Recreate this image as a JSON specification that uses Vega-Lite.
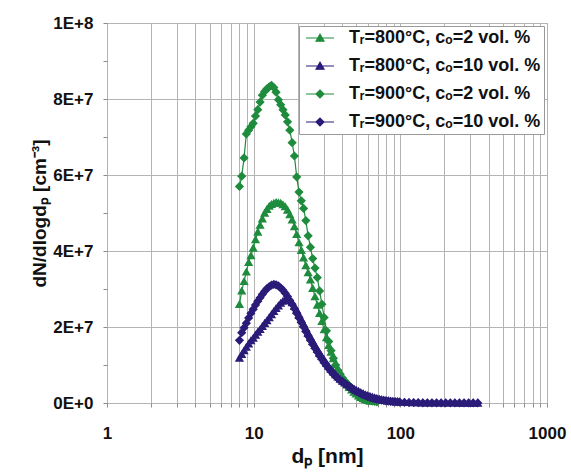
{
  "$schema": "https://vega.github.io/schema/vega-lite/v6.json",
  "width": 440,
  "height": 380,
  "autosize": {"type": "none"},
  "padding": {"left": 107, "top": 23, "right": 24, "bottom": 72},
  "background": "white",
  "config": {
    "view": {"stroke": "#8c8c8c", "strokeWidth": 1},
    "font": "Liberation Sans",
    "legend": {
      "orient": "top-right",
      "offset": 3,
      "padding": 3,
      "fillColor": "white",
      "strokeColor": "#9a9a9a",
      "labelFont": "Liberation Sans",
      "labelFontSize": 18,
      "labelFontWeight": "bold",
      "labelColor": "#111111",
      "labelLimit": 400,
      "symbolSize": 64,
      "symbolStrokeWidth": 1.2,
      "symbolOffset": 9,
      "labelOffset": 20,
      "rowPadding": 10
    }
  },
  "data": {"values": [
    {"s":"A","d":8.00,"n":2.60e7},{"s":"A","d":8.29,"n":2.95e7},{"s":"A","d":8.60,"n":3.20e7},{"s":"A","d":8.91,"n":3.45e7},
    {"s":"A","d":9.24,"n":3.70e7},{"s":"A","d":9.58,"n":3.88e7},{"s":"A","d":9.93,"n":4.08e7},{"s":"A","d":10.29,"n":4.30e7},
    {"s":"A","d":10.67,"n":4.50e7},{"s":"A","d":11.06,"n":4.68e7},{"s":"A","d":11.46,"n":4.85e7},{"s":"A","d":11.88,"n":5.00e7},
    {"s":"A","d":12.32,"n":5.10e7},{"s":"A","d":12.77,"n":5.18e7},{"s":"A","d":13.23,"n":5.23e7},{"s":"A","d":13.72,"n":5.26e7},
    {"s":"A","d":14.22,"n":5.28e7},{"s":"A","d":14.74,"n":5.27e7},{"s":"A","d":15.28,"n":5.26e7},{"s":"A","d":15.84,"n":5.22e7},
    {"s":"A","d":16.42,"n":5.17e7},{"s":"A","d":17.02,"n":5.08e7},{"s":"A","d":17.64,"n":4.96e7},{"s":"A","d":18.29,"n":4.82e7},
    {"s":"A","d":18.96,"n":4.64e7},{"s":"A","d":19.65,"n":4.44e7},{"s":"A","d":20.37,"n":4.22e7},{"s":"A","d":21.12,"n":4.02e7},
    {"s":"A","d":21.89,"n":3.82e7},{"s":"A","d":22.69,"n":3.62e7},{"s":"A","d":23.52,"n":3.43e7},{"s":"A","d":24.38,"n":3.24e7},
    {"s":"A","d":25.27,"n":3.02e7},{"s":"A","d":26.20,"n":2.80e7},{"s":"A","d":27.16,"n":2.58e7},{"s":"A","d":28.15,"n":2.36e7},
    {"s":"A","d":29.18,"n":2.15e7},{"s":"A","d":30.25,"n":1.93e7},{"s":"A","d":31.36,"n":1.72e7},{"s":"A","d":32.50,"n":1.52e7},
    {"s":"A","d":33.69,"n":1.34e7},{"s":"A","d":34.93,"n":1.17e7},{"s":"A","d":36.20,"n":1.02e7},{"s":"A","d":37.53,"n":0.88e7},
    {"s":"A","d":38.90,"n":0.76e7},{"s":"A","d":40.33,"n":0.65e7},{"s":"A","d":41.80,"n":0.56e7},{"s":"A","d":43.33,"n":0.48e7},
    {"s":"A","d":44.92,"n":0.41e7},{"s":"A","d":46.56,"n":0.35e7},{"s":"A","d":48.27,"n":0.29e7},{"s":"A","d":50.03,"n":0.24e7},
    {"s":"A","d":51.86,"n":0.19e7},{"s":"A","d":53.76,"n":0.15e7},{"s":"A","d":55.73,"n":0.12e7},{"s":"A","d":57.77,"n":0.09e7},
    {"s":"A","d":59.88,"n":0.07e7},{"s":"A","d":62.08,"n":0.05e7},

    {"s":"C","d":8.00,"n":5.70e7},{"s":"C","d":8.29,"n":5.97e7},{"s":"C","d":8.60,"n":6.45e7},{"s":"C","d":8.91,"n":7.08e7},
    {"s":"C","d":9.24,"n":7.18e7},{"s":"C","d":9.58,"n":7.27e7},{"s":"C","d":9.93,"n":7.36e7},{"s":"C","d":10.29,"n":7.55e7},
    {"s":"C","d":10.67,"n":7.72e7},{"s":"C","d":11.06,"n":7.92e7},{"s":"C","d":11.46,"n":8.10e7},{"s":"C","d":11.88,"n":8.20e7},
    {"s":"C","d":12.32,"n":8.27e7},{"s":"C","d":12.77,"n":8.32e7},{"s":"C","d":13.23,"n":8.36e7},{"s":"C","d":13.72,"n":8.30e7},
    {"s":"C","d":14.22,"n":8.18e7},{"s":"C","d":14.74,"n":7.98e7},{"s":"C","d":15.28,"n":7.85e7},{"s":"C","d":15.84,"n":7.72e7},
    {"s":"C","d":16.42,"n":7.58e7},{"s":"C","d":17.02,"n":7.40e7},{"s":"C","d":17.64,"n":7.18e7},{"s":"C","d":18.29,"n":6.85e7},
    {"s":"C","d":18.96,"n":6.50e7},{"s":"C","d":19.65,"n":5.95e7},{"s":"C","d":20.37,"n":5.55e7},{"s":"C","d":21.12,"n":5.32e7},
    {"s":"C","d":21.89,"n":5.12e7},{"s":"C","d":22.69,"n":4.80e7},{"s":"C","d":23.52,"n":4.40e7},{"s":"C","d":24.38,"n":4.10e7},
    {"s":"C","d":25.27,"n":3.80e7},{"s":"C","d":26.20,"n":3.55e7},{"s":"C","d":27.16,"n":3.30e7},{"s":"C","d":28.15,"n":2.95e7},
    {"s":"C","d":29.18,"n":2.60e7},{"s":"C","d":30.25,"n":2.25e7},{"s":"C","d":31.36,"n":1.90e7},{"s":"C","d":32.50,"n":1.62e7},
    {"s":"C","d":33.69,"n":1.38e7},{"s":"C","d":34.93,"n":1.18e7},{"s":"C","d":36.20,"n":1.00e7},{"s":"C","d":37.53,"n":0.86e7},
    {"s":"C","d":38.90,"n":0.76e7},{"s":"C","d":40.33,"n":0.66e7},{"s":"C","d":41.80,"n":0.58e7},{"s":"C","d":43.33,"n":0.51e7},
    {"s":"C","d":44.92,"n":0.45e7},{"s":"C","d":46.56,"n":0.40e7},{"s":"C","d":48.27,"n":0.34e7},{"s":"C","d":50.03,"n":0.28e7},
    {"s":"C","d":51.86,"n":0.22e7},{"s":"C","d":53.76,"n":0.17e7},{"s":"C","d":55.73,"n":0.13e7},{"s":"C","d":57.77,"n":0.10e7},
    {"s":"C","d":59.88,"n":0.08e7},{"s":"C","d":62.08,"n":0.06e7},{"s":"C","d":64.35,"n":0.05e7},{"s":"C","d":66.70,"n":0.04e7},
    {"s":"C","d":69.14,"n":0.03e7},

    {"s":"B","d":8.00,"n":1.18e7},{"s":"B","d":8.29,"n":1.28e7},{"s":"B","d":8.60,"n":1.38e7},{"s":"B","d":8.91,"n":1.47e7},
    {"s":"B","d":9.24,"n":1.56e7},{"s":"B","d":9.58,"n":1.64e7},{"s":"B","d":9.93,"n":1.71e7},{"s":"B","d":10.29,"n":1.79e7},
    {"s":"B","d":10.67,"n":1.87e7},{"s":"B","d":11.06,"n":1.94e7},{"s":"B","d":11.46,"n":2.02e7},{"s":"B","d":11.88,"n":2.10e7},
    {"s":"B","d":12.32,"n":2.17e7},{"s":"B","d":12.77,"n":2.25e7},{"s":"B","d":13.23,"n":2.33e7},{"s":"B","d":13.72,"n":2.41e7},
    {"s":"B","d":14.22,"n":2.49e7},{"s":"B","d":14.74,"n":2.56e7},{"s":"B","d":15.28,"n":2.63e7},{"s":"B","d":15.84,"n":2.68e7},
    {"s":"B","d":16.42,"n":2.72e7},{"s":"B","d":17.02,"n":2.73e7},{"s":"B","d":17.64,"n":2.70e7},{"s":"B","d":18.29,"n":2.64e7},
    {"s":"B","d":18.96,"n":2.55e7},{"s":"B","d":19.65,"n":2.45e7},{"s":"B","d":20.37,"n":2.33e7},{"s":"B","d":21.12,"n":2.21e7},
    {"s":"B","d":21.89,"n":2.09e7},{"s":"B","d":22.69,"n":1.97e7},{"s":"B","d":23.52,"n":1.85e7},{"s":"B","d":24.38,"n":1.74e7},
    {"s":"B","d":25.27,"n":1.63e7},{"s":"B","d":26.20,"n":1.52e7},{"s":"B","d":27.16,"n":1.42e7},{"s":"B","d":28.15,"n":1.32e7},
    {"s":"B","d":29.18,"n":1.23e7},{"s":"B","d":30.25,"n":1.14e7},{"s":"B","d":31.36,"n":1.05e7},{"s":"B","d":32.50,"n":0.97e7},
    {"s":"B","d":33.69,"n":0.89e7},{"s":"B","d":34.93,"n":0.82e7},{"s":"B","d":36.20,"n":0.75e7},{"s":"B","d":37.53,"n":0.69e7},
    {"s":"B","d":38.90,"n":0.63e7},{"s":"B","d":40.33,"n":0.58e7},{"s":"B","d":41.80,"n":0.53e7},{"s":"B","d":43.33,"n":0.49e7},
    {"s":"B","d":44.92,"n":0.45e7},{"s":"B","d":46.56,"n":0.41e7},{"s":"B","d":48.27,"n":0.37e7},{"s":"B","d":50.03,"n":0.34e7},
    {"s":"B","d":51.86,"n":0.31e7},{"s":"B","d":53.76,"n":0.28e7},{"s":"B","d":55.73,"n":0.25e7},{"s":"B","d":57.77,"n":0.22e7},
    {"s":"B","d":59.88,"n":0.20e7},{"s":"B","d":62.08,"n":0.18e7},{"s":"B","d":64.35,"n":0.16e7},{"s":"B","d":66.70,"n":0.14e7},
    {"s":"B","d":69.14,"n":0.12e7},{"s":"B","d":71.68,"n":0.105e7},{"s":"B","d":74.30,"n":0.09e7},{"s":"B","d":77.02,"n":0.08e7},
    {"s":"B","d":79.84,"n":0.07e7},{"s":"B","d":82.76,"n":0.06e7},{"s":"B","d":85.78,"n":0.05e7},{"s":"B","d":88.92,"n":0.045e7},
    {"s":"B","d":92.18,"n":0.04e7},{"s":"B","d":95.55,"n":0.035e7},{"s":"B","d":99.05,"n":0.03e7},{"s":"B","d":106.7,"n":0.022e7},
    {"s":"B","d":114.6,"n":0.017e7},{"s":"B","d":123.2,"n":0.013e7},{"s":"B","d":132.4,"n":0.01e7},{"s":"B","d":142.3,"n":0.008e7},
    {"s":"B","d":152.9,"n":0.006e7},{"s":"B","d":164.3,"n":0.005e7},{"s":"B","d":176.6,"n":0.004e7},{"s":"B","d":189.7,"n":0.003e7},
    {"s":"B","d":203.9,"n":0.003e7},{"s":"B","d":219.1,"n":0.002e7},{"s":"B","d":235.4,"n":0.002e7},{"s":"B","d":253.0,"n":0.001e7},
    {"s":"B","d":271.9,"n":0.001e7},{"s":"B","d":292.1,"n":0.001e7},{"s":"B","d":313.9,"n":0.001e7},{"s":"B","d":337.4,"n":0.001e7},

    {"s":"D","d":8.00,"n":1.65e7},{"s":"D","d":8.29,"n":1.85e7},{"s":"D","d":8.60,"n":1.98e7},{"s":"D","d":8.91,"n":2.10e7},
    {"s":"D","d":9.24,"n":2.24e7},{"s":"D","d":9.58,"n":2.36e7},{"s":"D","d":9.93,"n":2.47e7},{"s":"D","d":10.29,"n":2.58e7},
    {"s":"D","d":10.67,"n":2.68e7},{"s":"D","d":11.06,"n":2.77e7},{"s":"D","d":11.46,"n":2.86e7},{"s":"D","d":11.88,"n":2.94e7},
    {"s":"D","d":12.32,"n":3.01e7},{"s":"D","d":12.77,"n":3.06e7},{"s":"D","d":13.23,"n":3.10e7},{"s":"D","d":13.72,"n":3.12e7},
    {"s":"D","d":14.22,"n":3.11e7},{"s":"D","d":14.74,"n":3.08e7},{"s":"D","d":15.28,"n":3.03e7},{"s":"D","d":15.84,"n":2.97e7},
    {"s":"D","d":16.42,"n":2.89e7},{"s":"D","d":17.02,"n":2.80e7},{"s":"D","d":17.64,"n":2.70e7},{"s":"D","d":18.29,"n":2.60e7},
    {"s":"D","d":18.96,"n":2.48e7},{"s":"D","d":19.65,"n":2.36e7},{"s":"D","d":20.37,"n":2.24e7},{"s":"D","d":21.12,"n":2.12e7},
    {"s":"D","d":21.89,"n":2.00e7},{"s":"D","d":22.69,"n":1.88e7},{"s":"D","d":23.52,"n":1.76e7},{"s":"D","d":24.38,"n":1.65e7},
    {"s":"D","d":25.27,"n":1.54e7},{"s":"D","d":26.20,"n":1.44e7},{"s":"D","d":27.16,"n":1.34e7},{"s":"D","d":28.15,"n":1.24e7},
    {"s":"D","d":29.18,"n":1.15e7},{"s":"D","d":30.25,"n":1.06e7},{"s":"D","d":31.36,"n":0.98e7},{"s":"D","d":32.50,"n":0.90e7},
    {"s":"D","d":33.69,"n":0.83e7},{"s":"D","d":34.93,"n":0.76e7},{"s":"D","d":36.20,"n":0.70e7},{"s":"D","d":37.53,"n":0.64e7},
    {"s":"D","d":38.90,"n":0.59e7},{"s":"D","d":40.33,"n":0.56e7},{"s":"D","d":41.80,"n":0.51e7},{"s":"D","d":43.33,"n":0.47e7},
    {"s":"D","d":44.92,"n":0.43e7},{"s":"D","d":46.56,"n":0.39e7},{"s":"D","d":48.27,"n":0.35e7},{"s":"D","d":50.03,"n":0.31e7},
    {"s":"D","d":51.86,"n":0.28e7},{"s":"D","d":53.76,"n":0.25e7},{"s":"D","d":55.73,"n":0.22e7},{"s":"D","d":57.77,"n":0.195e7},
    {"s":"D","d":59.88,"n":0.17e7},{"s":"D","d":62.08,"n":0.15e7},{"s":"D","d":64.35,"n":0.13e7},{"s":"D","d":66.70,"n":0.115e7},
    {"s":"D","d":69.14,"n":0.10e7},{"s":"D","d":71.68,"n":0.088e7},{"s":"D","d":74.30,"n":0.076e7},{"s":"D","d":77.02,"n":0.066e7},
    {"s":"D","d":79.84,"n":0.057e7},{"s":"D","d":82.76,"n":0.05e7},{"s":"D","d":85.78,"n":0.044e7},{"s":"D","d":88.92,"n":0.038e7},
    {"s":"D","d":92.18,"n":0.033e7},{"s":"D","d":95.55,"n":0.028e7},{"s":"D","d":99.05,"n":0.024e7},{"s":"D","d":106.7,"n":0.015e7},
    {"s":"D","d":114.6,"n":0.012e7},{"s":"D","d":123.2,"n":0.01e7},{"s":"D","d":132.4,"n":0.008e7},{"s":"D","d":142.3,"n":0.006e7},
    {"s":"D","d":152.9,"n":0.005e7},{"s":"D","d":164.3,"n":0.004e7},{"s":"D","d":176.6,"n":0.003e7},{"s":"D","d":189.7,"n":0.003e7},
    {"s":"D","d":203.9,"n":0.002e7},{"s":"D","d":219.1,"n":0.002e7},{"s":"D","d":235.4,"n":0.001e7},{"s":"D","d":253.0,"n":0.001e7},
    {"s":"D","d":271.9,"n":0.001e7},{"s":"D","d":292.1,"n":0.001e7},{"s":"D","d":313.9,"n":0.001e7},{"s":"D","d":337.4,"n":0.001e7}
  ]},
  "encoding": {
    "x": {
      "field": "d", "type": "quantitative",
      "scale": {"type": "log", "domain": [1, 1000], "nice": false},
      "axis": {
        "values": [1,2,3,4,5,6,7,8,9,10,20,30,40,50,60,70,80,90,100,200,300,400,500,600,700,800,900,1000],
        "labelExpr": "datum.value == 1 || datum.value == 10 || datum.value == 100 || datum.value == 1000 ? format(datum.value, 'd') : ''",
        "title": "dₚ [nm]",
        "grid": true, "gridColor": "#b4b4b4", "gridWidth": 1,
        "domain": false,
        "ticks": true, "tickColor": "#8c8c8c", "tickSize": 4,
        "labelFont": "Liberation Sans", "labelFontSize": 17, "labelFontWeight": "bold", "labelColor": "#111111",
        "labelPadding": 18, "labelFlush": false, "labelOverlap": false, "labelBound": false,
        "titleFont": "Liberation Sans", "titleFontSize": 21, "titleFontWeight": "bold", "titleColor": "#111111",
        "titlePadding": 4
      }
    },
    "y": {
      "field": "n", "type": "quantitative",
      "scale": {"domain": [0, 100000000], "nice": false, "zero": true},
      "axis": {
        "values": [0,10000000,20000000,30000000,40000000,50000000,60000000,70000000,80000000,90000000,100000000],
        "labelExpr": "datum.value % 20000000 === 0 ? replace(format(datum.value, '.0e'), 'e', 'E') : ''",
        "title": "dN/dlogdₚ [cm⁻³]",
        "grid": true, "gridColor": "#b4b4b4", "gridWidth": 1,
        "gridOpacity": {"condition": {"test": "datum.value % 20000000 === 0", "value": 1}, "value": 0},
        "domain": false,
        "ticks": true, "tickColor": "#8c8c8c", "tickSize": 4,
        "labelFont": "Liberation Sans", "labelFontSize": 17, "labelFontWeight": "bold", "labelColor": "#111111",
        "labelPadding": 10, "labelOverlap": false, "labelBound": false, "labelFlush": false,
        "titleFont": "Liberation Sans", "titleFontSize": 19, "titleFontWeight": "bold", "titleColor": "#111111",
        "titlePadding": 3
      }
    }
  },
  "layer": [
    {
      "mark": {"type": "line", "strokeWidth": 1.2},
      "encoding": {
        "stroke": {
          "field": "s", "type": "nominal",
          "scale": {"domain": ["A","B","C","D"], "range": ["#1e8c3c","#2a1b78","#1e8c3c","#2a1b78"]},
          "legend": {
            "title": null,
            "labelExpr": "datum.value === 'A' ? 'Tᵣ=800°C, cₒ=2 vol. %' : datum.value === 'B' ? 'Tᵣ=800°C, cₒ=10 vol. %' : datum.value === 'C' ? 'Tᵣ=900°C, cₒ=2 vol. %' : 'Tᵣ=900°C, cₒ=10 vol. %'"
          }
        }
      }
    },
    {
      "mark": {"type": "point", "filled": true, "size": 85, "opacity": 1},
      "encoding": {
        "fill": {
          "field": "s", "type": "nominal",
          "scale": {"domain": ["A","B","C","D"], "range": ["#1e8c3c","#2a1b78","#1e8c3c","#2a1b78"]},
          "legend": {
            "title": null,
            "labelExpr": "datum.value === 'A' ? 'Tᵣ=800°C, cₒ=2 vol. %' : datum.value === 'B' ? 'Tᵣ=800°C, cₒ=10 vol. %' : datum.value === 'C' ? 'Tᵣ=900°C, cₒ=2 vol. %' : 'Tᵣ=900°C, cₒ=10 vol. %'"
          }
        },
        "shape": {
          "field": "s", "type": "nominal",
          "scale": {"domain": ["A","B","C","D"], "range": ["M-3.5,0H3.5M-1,0.8L0,-0.95L1,0.8Z","M-3.5,0H3.5M-1,0.8L0,-0.95L1,0.8Z","M-3.5,0H3.5M-1,0L0,-1L1,0L0,1Z","M-3.5,0H3.5M-1,0L0,-1L1,0L0,1Z"]},
          "legend": {
            "title": null,
            "labelExpr": "datum.value === 'A' ? 'Tᵣ=800°C, cₒ=2 vol. %' : datum.value === 'B' ? 'Tᵣ=800°C, cₒ=10 vol. %' : datum.value === 'C' ? 'Tᵣ=900°C, cₒ=2 vol. %' : 'Tᵣ=900°C, cₒ=10 vol. %'"
          }
        }
      }
    }
  ]
}
